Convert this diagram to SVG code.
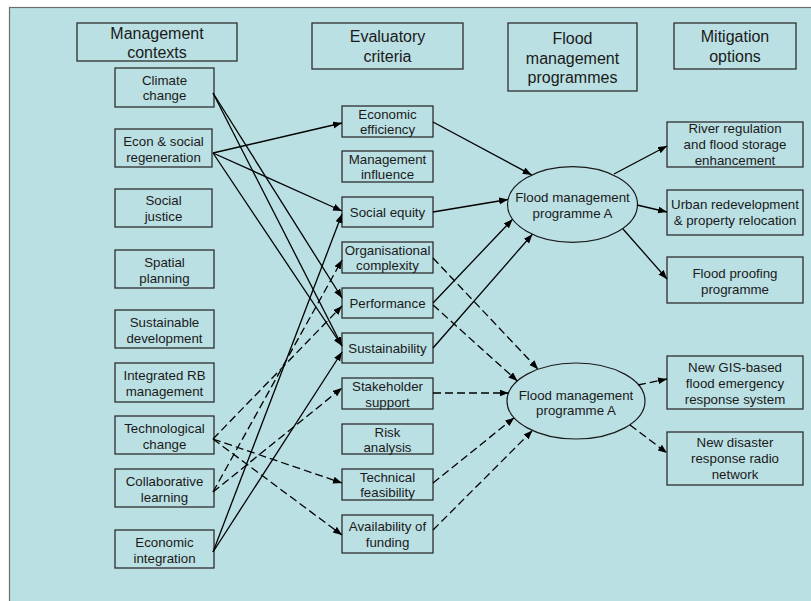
<svg xmlns="http://www.w3.org/2000/svg" width="811" height="601" viewBox="0 0 811 601">
  <style>
    .bg { fill: #bbe0e3; stroke: #6e6e6e; stroke-width: 1.2; }
    .box { fill: none; stroke: #2e2e2e; stroke-width: 1.3; }
    .ell { fill: none; stroke: #1a1a1a; stroke-width: 1.2; }
    .hd { font-family: "Liberation Sans", Arial, sans-serif; font-size: 16px; fill: #1a1a1a; text-anchor: middle; }
    .tx { font-family: "Liberation Sans", Arial, sans-serif; font-size: 13.3px; fill: #1a1a1a; text-anchor: middle; }
    .ln { fill: none; stroke: #000; stroke-width: 1.3; marker-end: url(#arrow); }
    .dash { stroke-dasharray: 8 4; }
  </style>
  <defs>
    <marker id="arrow" markerUnits="userSpaceOnUse" markerWidth="10" markerHeight="8" refX="9" refY="3.5" orient="auto">
      <path d="M0,0 L9,3.5 L0,7 z" fill="#000"/>
    </marker>
  </defs>

  <!-- canvas -->
  <rect x="0" y="0" width="811" height="601" fill="#ffffff"/>
  <rect class="bg" x="9.5" y="7.5" width="810" height="600"/>

  <!-- column headers -->
  <g id="hdr-contexts">
    <rect class="box" x="77" y="23" width="160" height="38"/>
    <text class="hd" x="157"><tspan x="157" y="39">Management</tspan><tspan x="157" y="58">contexts</tspan></text>
  </g>
  <g id="hdr-criteria">
    <rect class="box" x="312" y="23" width="151" height="46"/>
    <text class="hd"><tspan x="387.5" y="42">Evaluatory</tspan><tspan x="387.5" y="62">criteria</tspan></text>
  </g>
  <g id="hdr-programmes">
    <rect class="box" x="508" y="23" width="129" height="68"/>
    <text class="hd"><tspan x="572.5" y="44">Flood</tspan><tspan x="572.5" y="63.5">management</tspan><tspan x="572.5" y="83">programmes</tspan></text>
  </g>
  <g id="hdr-mitigation">
    <rect class="box" x="674" y="23" width="122" height="46"/>
    <text class="hd"><tspan x="735" y="42">Mitigation</tspan><tspan x="735" y="62">options</tspan></text>
  </g>

  <!-- management contexts -->
  <g id="ctx-climate">
    <rect class="box" x="115" y="68" width="99" height="39"/>
    <text class="tx"><tspan x="164.5" y="84.5">Climate</tspan><tspan x="164.5" y="100">change</tspan></text>
  </g>
  <g id="ctx-econ-social">
    <rect class="box" x="115" y="129" width="97" height="38"/>
    <text class="tx"><tspan x="163.5" y="146">Econ &amp; social</tspan><tspan x="163.5" y="162">regeneration</tspan></text>
  </g>
  <g id="ctx-social-justice">
    <rect class="box" x="115" y="189" width="97" height="38"/>
    <text class="tx"><tspan x="163.5" y="205">Social</tspan><tspan x="163.5" y="221">justice</tspan></text>
  </g>
  <g id="ctx-spatial">
    <rect class="box" x="115" y="250" width="99" height="38"/>
    <text class="tx"><tspan x="164.5" y="267">Spatial</tspan><tspan x="164.5" y="283">planning</tspan></text>
  </g>
  <g id="ctx-sustainable">
    <rect class="box" x="115" y="310" width="99" height="38"/>
    <text class="tx"><tspan x="164.5" y="327">Sustainable</tspan><tspan x="164.5" y="343">development</tspan></text>
  </g>
  <g id="ctx-irbm">
    <rect class="box" x="115" y="363" width="99" height="39"/>
    <text class="tx"><tspan x="164.5" y="380">Integrated RB</tspan><tspan x="164.5" y="396">management</tspan></text>
  </g>
  <g id="ctx-tech">
    <rect class="box" x="115" y="416" width="99" height="38"/>
    <text class="tx"><tspan x="164.5" y="433">Technological</tspan><tspan x="164.5" y="449">change</tspan></text>
  </g>
  <g id="ctx-collab">
    <rect class="box" x="115" y="469" width="99" height="38"/>
    <text class="tx"><tspan x="164.5" y="486">Collaborative</tspan><tspan x="164.5" y="502">learning</tspan></text>
  </g>
  <g id="ctx-econ-int">
    <rect class="box" x="115" y="530" width="99" height="38"/>
    <text class="tx"><tspan x="164.5" y="547">Economic</tspan><tspan x="164.5" y="563">integration</tspan></text>
  </g>

  <!-- evaluatory criteria -->
  <g id="crit-eff">
    <rect class="box" x="342" y="106" width="91" height="31"/>
    <text class="tx"><tspan x="387.5" y="119">Economic</tspan><tspan x="387.5" y="134">efficiency</tspan></text>
  </g>
  <g id="crit-influence">
    <rect class="box" x="342" y="151" width="91" height="31"/>
    <text class="tx"><tspan x="387.5" y="164">Management</tspan><tspan x="387.5" y="179">influence</tspan></text>
  </g>
  <g id="crit-equity">
    <rect class="box" x="342" y="197" width="91" height="30"/>
    <text class="tx" x="387.5" y="217">Social equity</text>
  </g>
  <g id="crit-org">
    <rect class="box" x="342" y="242" width="91" height="31"/>
    <text class="tx"><tspan x="387.5" y="255">Organisational</tspan><tspan x="387.5" y="270">complexity</tspan></text>
  </g>
  <g id="crit-perf">
    <rect class="box" x="342" y="288" width="91" height="30"/>
    <text class="tx" x="387.5" y="308">Performance</text>
  </g>
  <g id="crit-sust">
    <rect class="box" x="342" y="333" width="91" height="30"/>
    <text class="tx" x="387.5" y="353">Sustainability</text>
  </g>
  <g id="crit-stake">
    <rect class="box" x="342" y="378" width="91" height="31"/>
    <text class="tx"><tspan x="387.5" y="391">Stakeholder</tspan><tspan x="387.5" y="407">support</tspan></text>
  </g>
  <g id="crit-risk">
    <rect class="box" x="342" y="424" width="91" height="30"/>
    <text class="tx"><tspan x="387.5" y="437">Risk</tspan><tspan x="387.5" y="452">analysis</tspan></text>
  </g>
  <g id="crit-feas">
    <rect class="box" x="342" y="469" width="91" height="31"/>
    <text class="tx"><tspan x="387.5" y="482">Technical</tspan><tspan x="387.5" y="497">feasibility</tspan></text>
  </g>
  <g id="crit-fund">
    <rect class="box" x="342" y="515" width="91" height="38"/>
    <text class="tx"><tspan x="387.5" y="531">Availability of</tspan><tspan x="387.5" y="547">funding</tspan></text>
  </g>

  <!-- programmes -->
  <g id="prog-a1">
    <ellipse class="ell" cx="572.5" cy="204.5" rx="65" ry="37.8"/>
    <text class="tx"><tspan x="572.5" y="202">Flood management</tspan><tspan x="572.5" y="217.5">programme A</tspan></text>
  </g>
  <g id="prog-a2">
    <ellipse class="ell" cx="576" cy="401" rx="69" ry="38"/>
    <text class="tx"><tspan x="576" y="399.5">Flood management</tspan><tspan x="576" y="415">programme A</tspan></text>
  </g>

  <!-- mitigation options -->
  <g id="mit-river">
    <rect class="box" x="667" y="122" width="136" height="45"/>
    <text class="tx"><tspan x="735" y="133">River regulation</tspan><tspan x="735" y="149">and flood storage</tspan><tspan x="735" y="165">enhancement</tspan></text>
  </g>
  <g id="mit-urban">
    <rect class="box" x="667" y="190" width="136" height="45"/>
    <text class="tx"><tspan x="735" y="209">Urban redevelopment</tspan><tspan x="735" y="225">&amp; property relocation</tspan></text>
  </g>
  <g id="mit-proofing">
    <rect class="box" x="667" y="257" width="136" height="46"/>
    <text class="tx"><tspan x="735" y="278">Flood proofing</tspan><tspan x="735" y="294">programme</tspan></text>
  </g>
  <g id="mit-gis">
    <rect class="box" x="667" y="356" width="136" height="53"/>
    <text class="tx"><tspan x="735" y="372">New GIS-based</tspan><tspan x="735" y="388">flood emergency</tspan><tspan x="735" y="404">response system</tspan></text>
  </g>
  <g id="mit-radio">
    <rect class="box" x="667" y="432" width="136" height="53"/>
    <text class="tx"><tspan x="735" y="447">New disaster</tspan><tspan x="735" y="463">response radio</tspan><tspan x="735" y="479">network</tspan></text>
  </g>

  <!-- connectors -->
  <g id="connectors">
    <!-- contexts to criteria -->
    <line class="ln" x1="213" y1="93" x2="342" y2="298"/>
    <line class="ln" x1="213" y1="93" x2="342" y2="346"/>
    <line class="ln" x1="213" y1="153" x2="342" y2="123"/>
    <line class="ln" x1="213" y1="153" x2="342" y2="211"/>
    <line class="ln" x1="213" y1="153" x2="342" y2="346"/>
    <line class="ln" x1="213" y1="552" x2="342" y2="214"/>
    <line class="ln" x1="213" y1="552" x2="342" y2="352"/>
    <line class="ln dash" x1="213" y1="492" x2="342" y2="260"/>
    <line class="ln dash" x1="213" y1="439" x2="342" y2="306"/>
    <line class="ln dash" x1="213" y1="492" x2="342" y2="388"/>
    <line class="ln dash" x1="213" y1="439" x2="342" y2="483"/>
    <line class="ln dash" x1="213" y1="439" x2="342" y2="535"/>
    <!-- criteria to programmes -->
    <line class="ln" x1="433" y1="122" x2="531.7" y2="174.9"/>
    <line class="ln" x1="433" y1="212" x2="508" y2="199.5"/>
    <line class="ln" x1="433" y1="303" x2="512.6" y2="219.3"/>
    <line class="ln" x1="433" y1="348" x2="532.4" y2="234.3"/>
    <line class="ln dash" x1="433" y1="258" x2="538.1" y2="369.2"/>
    <line class="ln dash" x1="433" y1="305" x2="517.4" y2="381"/>
    <line class="ln dash" x1="433" y1="393" x2="508.5" y2="393"/>
    <line class="ln dash" x1="433" y1="483" x2="514.2" y2="417.7"/>
    <line class="ln dash" x1="433" y1="530" x2="532.4" y2="430.6"/>
    <!-- programmes to mitigation options -->
    <line class="ln" x1="614" y1="174" x2="667" y2="146"/>
    <line class="ln" x1="637" y1="205" x2="667" y2="212"/>
    <line class="ln" x1="623" y1="229" x2="667" y2="279"/>
    <line class="ln dash" x1="638" y1="385" x2="667" y2="379"/>
    <line class="ln dash" x1="630" y1="425" x2="667" y2="453"/>
  </g>
</svg>
